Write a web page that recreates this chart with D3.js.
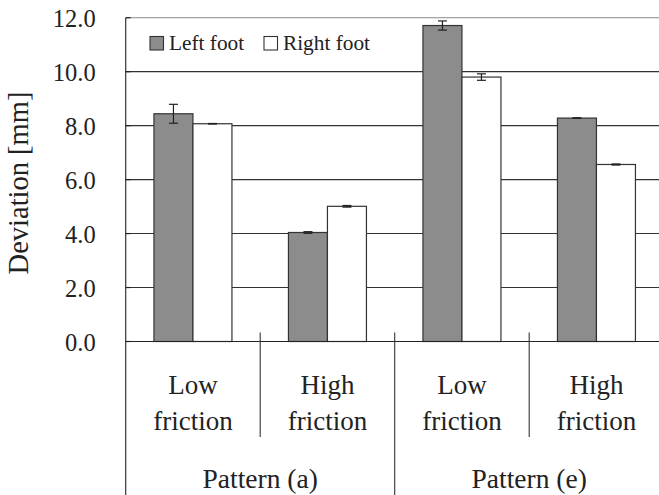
<!DOCTYPE html>
<html>
<head>
<meta charset="utf-8">
<script src="https://cdn.jsdelivr.net/npm/d3@7"></script>
</head>
<body style="margin:0;background:#fff">
<svg id="chart" width="659" height="495" style="display:block" font-family="Liberation Serif"></svg>
<script>
// Mean deviation per condition, with error half-widths
const conditions = ["Low friction (a)", "High friction (a)", "Low friction (e)", "High friction (e)"];
const frictionLines = [["Low", "friction"], ["High", "friction"], ["Low", "friction"], ["High", "friction"]];
const patterns = ["Pattern (a)", "Pattern (e)"];
const seriesNames = ["Left foot", "Right foot"];
const leftFoot = [8.44, 4.04, 11.71, 8.28];
const rightFoot = [8.07, 5.01, 9.80, 6.56];
const leftFootErr = [0.35, 0.03, 0.17, 0.01];
const rightFootErr = [0.01, 0.03, 0.12, 0.02];
const yTicks = [0, 2, 4, 6, 8, 10, 12];

const SERIF = "Liberation Serif";
const svg = d3.select("#chart");
const plotLeft = 125.7, plotTop = 17.7, plotBottom = 341.5;
const bandW = 134.5;
const plotRight = plotLeft + bandW * conditions.length;

const x = d3.scaleBand().domain(conditions).range([plotLeft, plotRight]).padding(0);
const y = d3.scaleLinear().domain([0, 12]).range([plotBottom, plotTop]);
const barW = 39;

const series = [
  { name: seriesNames[0], values: leftFoot, err: leftFootErr, fill: "#8c8c8c", offset: -barW },
  { name: seriesNames[1], values: rightFoot, err: rightFootErr, fill: "#ffffff", offset: 0 }
];

function styleText(sel, size) {
  return sel.style("font-family", SERIF).style("font-size", size + "px").attr("fill", "#222");
}

// Horizontal gridlines
svg.append("g")
  .selectAll("line")
  .data(yTicks.filter(t => t > 0))
  .join("line")
  .attr("x1", plotLeft).attr("x2", 659)
  .attr("y1", d => y(d)).attr("y2", d => y(d))
  .attr("stroke", d => d === 12 ? "#8a8a8a" : "#333")
  .attr("stroke-width", 1.1);

// Bars
series.forEach(s => {
  svg.append("g")
    .selectAll("rect")
    .data(conditions)
    .join("rect")
    .attr("x", (c) => x(c) + x.bandwidth() / 2 + s.offset)
    .attr("y", (c, i) => y(s.values[i]))
    .attr("width", barW)
    .attr("height", (c, i) => y(0) - y(s.values[i]))
    .attr("fill", s.fill)
    .attr("stroke", "#333")
    .attr("stroke-width", 1.2);
});

// Error bars
series.forEach(s => {
  const g = svg.append("g").attr("stroke", "#222").attr("stroke-width", 1.2);
  conditions.forEach((c, i) => {
    const cx = x(c) + x.bandwidth() / 2 + s.offset + barW / 2;
    const hi = y(s.values[i] + s.err[i]);
    const lo = y(s.values[i] - s.err[i]);
    g.append("line").attr("x1", cx).attr("x2", cx).attr("y1", hi).attr("y2", lo);
    g.append("line").attr("x1", cx - 4.5).attr("x2", cx + 4.5).attr("y1", hi).attr("y2", hi);
    g.append("line").attr("x1", cx - 4.5).attr("x2", cx + 4.5).attr("y1", lo).attr("y2", lo);
  });
});

// Value axis
const yAxis = d3.axisLeft(y).tickValues(yTicks).tickSize(0).tickPadding(30)
  .tickFormat(d3.format(".1f"));
const ya = svg.append("g").attr("transform", `translate(${plotLeft},0)`).call(yAxis);
ya.select(".domain").remove();
ya.attr("font-family", SERIF).attr("font-size", 24);
styleText(ya.selectAll("text"), 24.5).attr("dy", "0.35em");

svg.append("line")
  .attr("x1", plotLeft).attr("x2", plotLeft).attr("y1", plotTop).attr("y2", 495)
  .attr("stroke", "#333").attr("stroke-width", 1.2);
// inner ticks on the value axis
svg.append("g").selectAll("line").data(yTicks).join("line")
  .attr("x1", plotLeft).attr("x2", plotLeft + 5)
  .attr("y1", d => y(d)).attr("y2", d => y(d))
  .attr("stroke", "#222").attr("stroke-width", 1.2);

// Category axis baseline
svg.append("line")
  .attr("x1", plotLeft).attr("x2", 659).attr("y1", plotBottom).attr("y2", plotBottom)
  .attr("stroke", "#222").attr("stroke-width", 1.2);

// Category dividers
conditions.slice(1).forEach((c, i) => {
  const isPattern = (i + 1) % 2 === 0;
  svg.append("line")
    .attr("x1", x(c)).attr("x2", x(c))
    .attr("y1", plotBottom - 9)
    .attr("y2", isPattern ? 495 : 437)
    .attr("stroke", "#333").attr("stroke-width", 1.1);
});

// Category labels
conditions.forEach((c, i) => {
  const cx = x(c) + x.bandwidth() / 2;
  frictionLines[i].forEach((line, k) => {
    styleText(svg.append("text"), 27)
      .attr("x", cx).attr("y", 393.5 + k * 36)
      .attr("text-anchor", "middle")
      .text(line);
  });
});
patterns.forEach((p, i) => {
  const cx = x(conditions[i * 2]) + x.bandwidth();
  styleText(svg.append("text"), 27.5)
    .attr("x", cx).attr("y", 488)
    .attr("text-anchor", "middle")
    .text(p);
});

// Value axis title
styleText(svg.append("text"), 28.5)
  .attr("transform", `translate(28,183) rotate(-90)`)
  .attr("text-anchor", "middle")
  .text("Deviation [mm]");

// Legend
const legend = svg.append("g");
const legendX = [150, 264];
series.forEach((s, i) => {
  legend.append("rect")
    .attr("x", legendX[i]).attr("y", 36.5).attr("width", 13.5).attr("height", 13.5)
    .attr("fill", s.fill).attr("stroke", "#333").attr("stroke-width", 1.1);
  styleText(legend.append("text"), 21.3)
    .attr("x", legendX[i] + 19).attr("y", 50)
    .text(s.name);
});
</script>
</body>
</html>
